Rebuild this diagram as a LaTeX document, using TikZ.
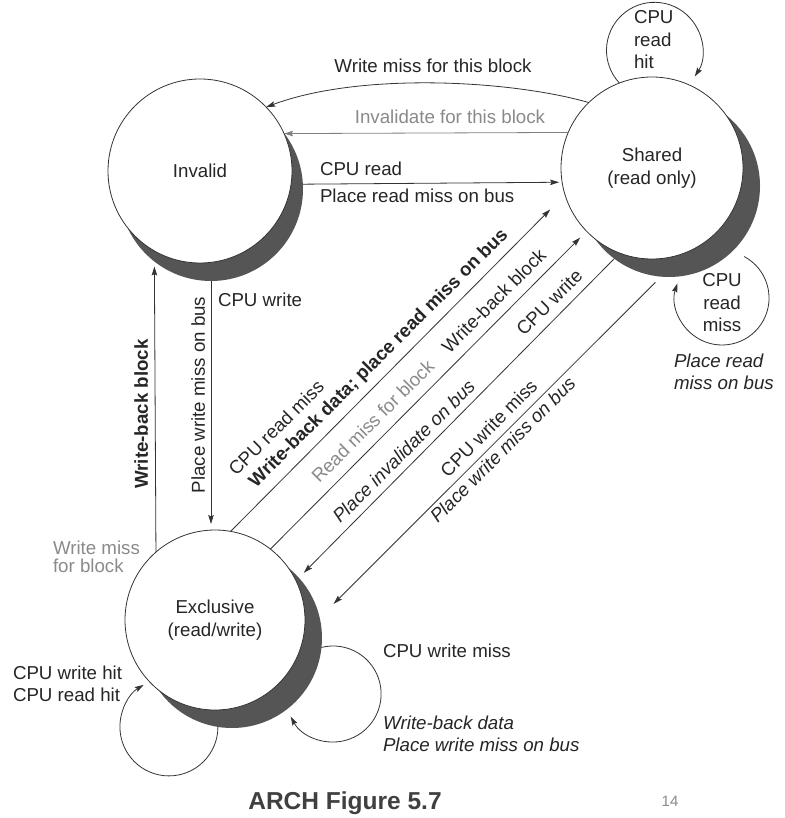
\documentclass[tikz,border=0pt]{standalone}
\usepackage{fontspec}
\setmainfont{Liberation Sans}
\usetikzlibrary{arrows.meta,calc}
\definecolor{txt}{HTML}{262626}
\definecolor{gtxt}{HTML}{8A8A8A}
\definecolor{gline}{HTML}{808080}
\definecolor{linec}{HTML}{333333}
\definecolor{shade}{HTML}{555555}
\definecolor{titlec}{HTML}{404040}
\begin{document}
\begin{tikzpicture}[x=1pt,y=1pt,
  every node/.style={inner sep=0pt, outer sep=0pt, text=txt, font=\fontsize{18.7}{22.5}\selectfont},
  lbl/.style={text height=13.4pt, text depth=3.8pt},
  gry/.style={text=gtxt},
  bld/.style={font=\fontsize{18.7}{22.5}\selectfont\bfseries},
  itl/.style={font=\fontsize{18.7}{22.5}\selectfont\itshape},
  state/.style={circle, draw=linec, line width=0.8pt, fill=white, align=center},
  shadowc/.style={circle, fill=shade},
  conn/.style={draw=linec, line width=0.8pt, -{Stealth[length=9pt,width=5.5pt,inset=1.5pt]}},
]
\fill[white] (0,0) rectangle (784,-818);
\useasboundingbox (0,0) rectangle (784,-818);

% shadows
\node[shadowc, minimum size=184pt] (invS) at (211,-189) {};
\node[shadowc, minimum size=182pt] (shS) at (669,-186) {};
\node[shadowc, minimum size=180pt] (exS) at (232,-638) {};
% states
\node[state, minimum size=184pt] (inv) at (200,-171) {Invalid};
\node[state, minimum size=182pt] (sh) at (652,-168) {Shared\\(read only)};
\node[state, minimum size=180pt] (ex) at (215,-620) {Exclusive\\(read/write)};

% top connectors
\draw[conn] (sh.134) .. controls (510,-80) and (360,-72) .. (inv.44);
\draw[conn, draw=gline] (sh.157.4) -- (inv.24.4);
\draw[conn, shorten >=3pt] (invS.3.7) -- (sh.189.5);

% vertical connectors
\draw[conn, shorten >=5pt] (ex.131.8) -- (invS.232.5);
\draw[conn, shorten >=6pt] (invS.south) -- (invS.south |- ex.north);

% diagonal connectors
\draw[conn, shorten >=21pt] (ex.80.7) -- (sh.197.2);
\draw[conn, shorten >=9pt] (ex.52.8) -- (sh.224.1);
\draw[conn, shorten >=7pt] (shS.233.9) -- (exS.42.8);
\draw[conn, shorten <=8pt, shorten >=19.7pt] (shS.265.1) -- (exS.13.1);

% self loops
\draw[conn] (sh.111.2) arc[start angle=-137, end angle=-393, radius=48];
\coordinate (shl) at (744.1,-256.5);
\draw[conn] (shl) arc[start angle=62, end angle=-198, radius=47];
\draw[conn] (exS.261.2) arc[start angle=0, end angle=-239, radius=49];
\draw[conn] (exS.-6.4) arc[start angle=-256, end angle=-512, radius=48];

% labels top
\node[lbl] (l1) at (433,-68) {Write miss for this block};
\node[lbl,gry] (l2) at (450,-119) {Invalidate for this block};
\node[lbl,anchor=west] (l3) at (320,-171) {CPU read};
\node[lbl,anchor=west] (l4) at (320,-198) {Place read miss on bus};
\node[align=left,anchor=west] (l5) at (634,-40) {CPU\\read\\hit};
\node[align=center] (l6) at (722,-303) {CPU\\read\\miss};
\node[itl,align=left,anchor=west] (l7) at (674,-372) {Place read\\miss on bus};

% labels vertical
\node[lbl,anchor=west] (l8) at (218,-302) {CPU write};
\node[lbl,rotate=90] (l9) at (200,-395) {Place write miss on bus};
\node[lbl,bld,rotate=90] (l10) at (143,-414) {Write-back block};
\node[gry,align=left,anchor=west] (l11) at (53,-557) {Write miss\\[-4pt]for block};

% labels diagonal
\node[lbl,rotate=45] (d1) at (277.5,-429) {CPU read miss};
\node[lbl,bld,rotate=45] (d2) at (379,-358.5) {Write-back data; place read miss on bus};
\node[lbl,gry,rotate=45] (d3) at (374,-422.5) {Read miss for block};
\node[lbl,rotate=45] (d4) at (495,-302) {Write-back block};
\node[lbl,rotate=45] (d5) at (550.5,-303.5) {CPU write};
\node[lbl,itl,rotate=45] (d6) at (405,-452.5) {Place invalidate on bus};
\node[lbl,rotate=45] (d7) at (490,-429.5) {CPU write miss};
\node[lbl,itl,rotate=45] (d8) at (504,-451) {Place write miss on bus};

% labels bottom
\node[align=left,anchor=west] (l12) at (13,-684) {CPU write hit\\CPU read hit};
\node[lbl,anchor=west] (l13) at (383,-653) {CPU write miss};
\node[itl,align=left,anchor=west] (l14) at (383,-734) {Write-back data\\Place write miss on bus};
\node[font=\fontsize{24.5}{28}\selectfont\bfseries, text=titlec] (l15) at (345,-803) {ARCH Figure 5.7};
\node[font=\fontsize{15}{18}\selectfont, text=gtxt] (l16) at (670,-801) {14};
\end{tikzpicture}
\end{document}
